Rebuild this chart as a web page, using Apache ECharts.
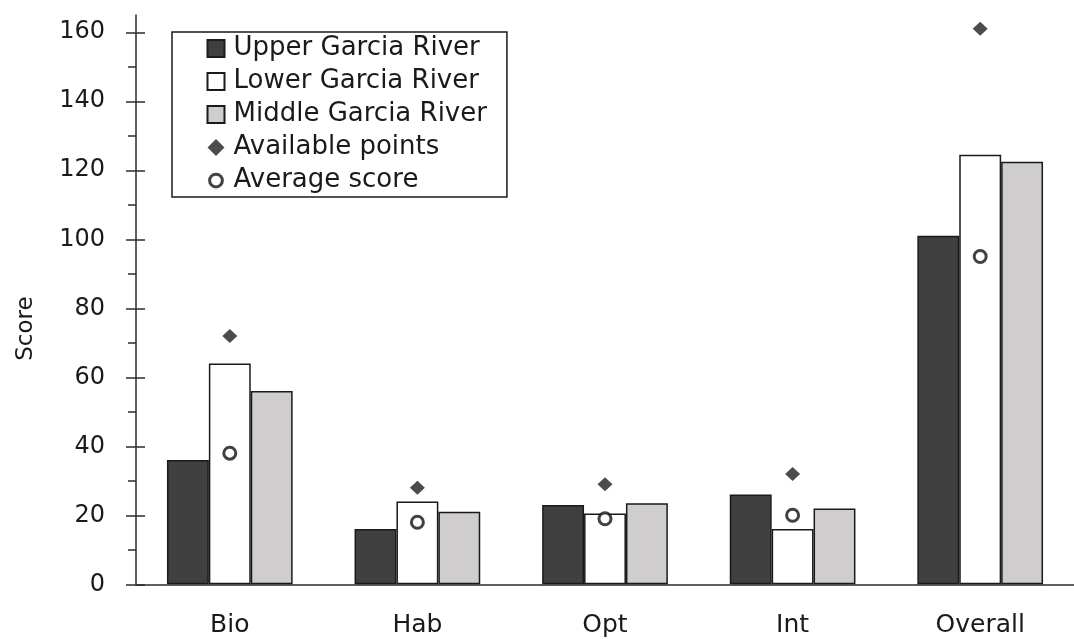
<!DOCTYPE html>
<html>
<head>
<meta charset="utf-8">
<script src="https://cdn.jsdelivr.net/npm/echarts@6/dist/echarts.min.js"></script>
<style>
  html, body { margin: 0; padding: 0; background: #ffffff; }
  #chart { width: 1074px; height: 639px; }
</style>
</head>
<body>
<div id="chart"></div>
<script>
// Categories of the river assessment
const categories = ['Bio', 'Hab', 'Opt', 'Int', 'Overall'];

// Scores per river reach
const upperGarcia = [36, 16, 23, 26, 101];
const lowerGarcia = [64, 24, 20.5, 16, 124.5];
const middleGarcia = [56, 21, 23.5, 22, 122.5];

// Maximum available points and average score per category
const availablePoints = [72, 28, 29, 32, 161];
const averageScore = [38, 18, 19, 20, 95];

// Score axis ticks
const majorTicks = [0, 20, 40, 60, 80, 100, 120, 140, 160];
const minorTicks = [10, 30, 50, 70, 90, 110, 130, 150];

const FONT = '"DejaVu Sans", Inter, sans-serif';
const INK = '#1a1a1a';
const EDGE = '#1a1a1a';
const AXIS = '#2b2b2b';

const chart = echarts.init(document.getElementById('chart'), null, { renderer: 'canvas' });

const scoreAxisBase = {
  type: 'value',
  min: 0,
  max: 165,
  position: 'left',
  splitLine: { show: false }
};

const barStyle = (fill) => ({ color: fill, borderColor: EDGE, borderWidth: 1.5 });

// ring glyph for the legend, padded so the stroke stays inside the swatch
const ringIcon = 'path://M0,0M12,12M6,1.5A4.5,4.5 0 1,1 5.99,1.5Z';

chart.setOption({
  backgroundColor: '#ffffff',
  animation: false,
  textStyle: { fontFamily: FONT, color: INK },
  grid: { left: 136, right: -8.5, top: 15, bottom: 54.7, containLabel: false },
  legend: {
    orient: 'vertical',
    left: 172,
    top: 32,
    itemWidth: 17,
    itemHeight: 17,
    itemGap: 0,
    padding: [0, 20, 0, 34],
    borderColor: EDGE,
    borderWidth: 1.5,
    backgroundColor: '#ffffff',
    textStyle: { fontFamily: FONT, fontSize: 26, color: INK, lineHeight: 33, padding: [0, 0, 0, 4] },
    data: [
      { name: 'Upper Garcia River', icon: 'rect' },
      { name: 'Lower Garcia River', icon: 'rect' },
      { name: 'Middle Garcia River', icon: 'rect' },
      { name: 'Available points', icon: 'diamond' },
      { name: 'Average score', icon: ringIcon, itemStyle: { color: '#ffffff', borderColor: '#111111', borderWidth: 3 } }
    ]
  },
  xAxis: {
    type: 'category',
    data: categories,
    boundaryGap: true,
    axisLine: { show: true, lineStyle: { color: AXIS, width: 1.5 } },
    axisTick: { show: false },
    axisLabel: { fontFamily: FONT, fontSize: 25, color: INK, margin: 29 },
    splitLine: { show: false }
  },
  yAxis: [
    Object.assign({}, scoreAxisBase, {
      name: 'Score',
      nameLocation: 'middle',
      nameGap: 98,
      nameTextStyle: { fontFamily: FONT, fontSize: 23, color: INK, padding: [0, 58, 0, 0] },
      axisLine: { show: true, lineStyle: { color: AXIS, width: 1.5 } },
      axisTick: { show: true, length: 10, customValues: majorTicks, lineStyle: { color: AXIS, width: 1.5 } },
      axisLabel: { show: true, customValues: majorTicks, margin: 31, fontFamily: FONT, fontSize: 24, color: INK }
    }),
    // inner half of the major tick marks
    Object.assign({}, scoreAxisBase, {
      axisLine: { show: false },
      axisTick: { show: true, inside: true, length: 9, customValues: majorTicks, lineStyle: { color: AXIS, width: 1.5 } },
      axisLabel: { show: false }
    }),
    // minor tick marks
    Object.assign({}, scoreAxisBase, {
      axisLine: { show: false },
      axisTick: { show: true, length: 8, customValues: minorTicks, lineStyle: { color: AXIS, width: 1.5 } },
      axisLabel: { show: false }
    })
  ],
  series: [
    {
      name: 'Upper Garcia River',
      type: 'bar',
      data: upperGarcia,
      barGap: '0%',
      barCategoryGap: '33%',
      itemStyle: barStyle('#404040')
    },
    {
      name: 'Lower Garcia River',
      type: 'bar',
      data: lowerGarcia,
      barGap: '0%',
      barCategoryGap: '33%',
      itemStyle: barStyle('#ffffff')
    },
    {
      name: 'Middle Garcia River',
      type: 'bar',
      data: middleGarcia,
      barGap: '0%',
      barCategoryGap: '33%',
      itemStyle: barStyle('#cfcdce')
    },
    {
      name: 'Available points',
      type: 'scatter',
      data: availablePoints,
      symbol: 'diamond',
      symbolSize: [15, 14],
      z: 5,
      itemStyle: { color: '#1f1f1f' }
    },
    {
      name: 'Average score',
      type: 'scatter',
      data: averageScore,
      symbol: 'circle',
      symbolSize: 12,
      z: 5,
      itemStyle: { color: '#ffffff', borderColor: '#111111', borderWidth: 3 }
    }
  ]
});
</script>
</body>
</html>
